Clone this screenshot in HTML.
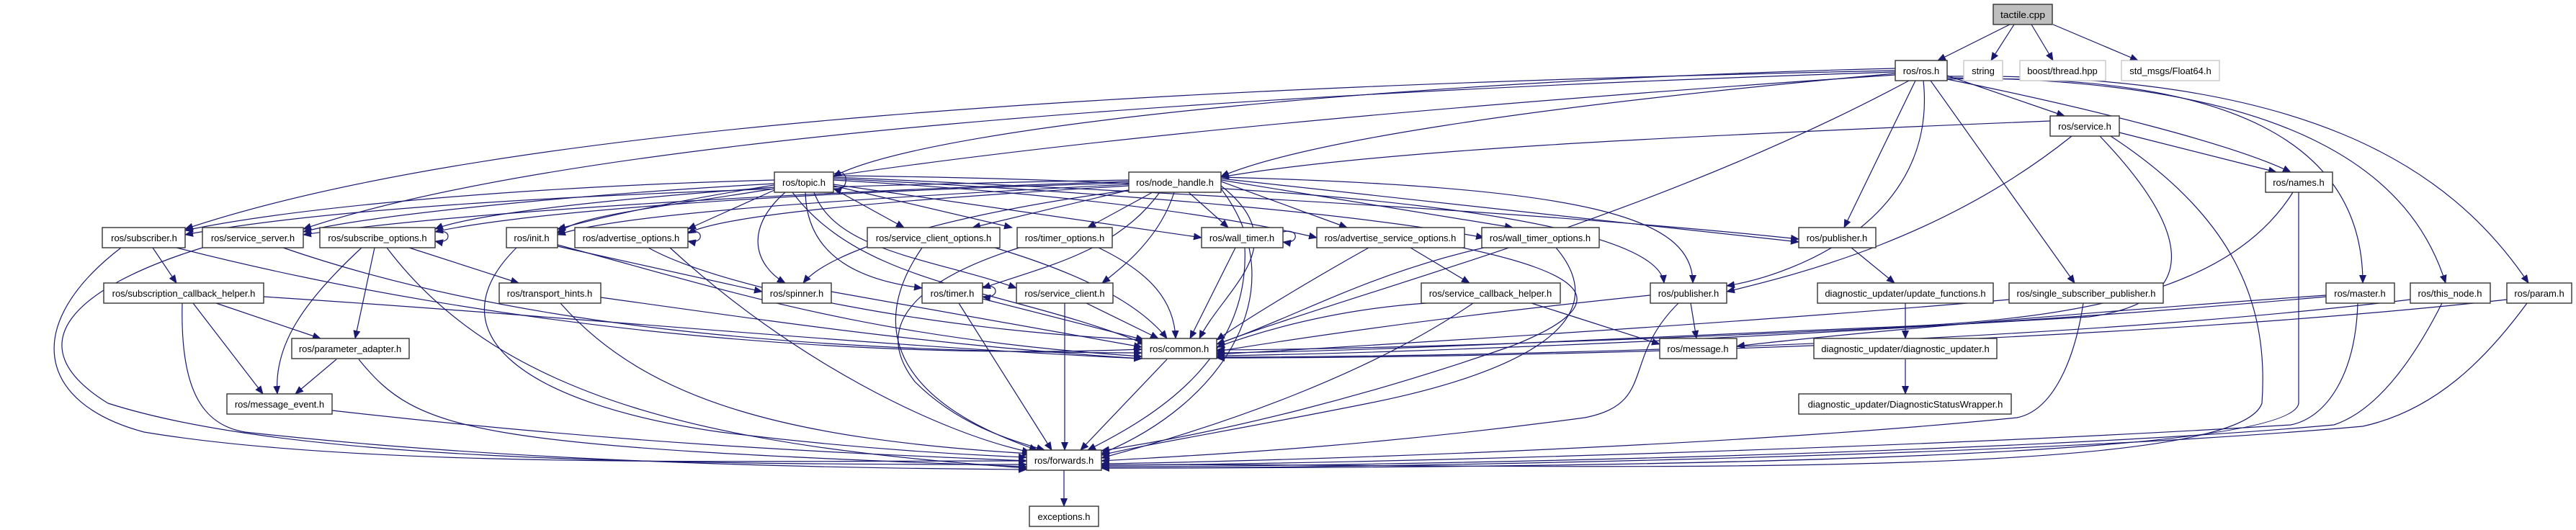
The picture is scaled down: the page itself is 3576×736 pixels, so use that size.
<!DOCTYPE html>
<html><head><meta charset="utf-8"><style>
html,body{margin:0;padding:0;background:#fff;}
svg{display:block;}
.e{fill:none;stroke:#191970;stroke-width:1.2;marker-end:url(#a);}
.n{fill:#fff;stroke:#333;stroke-width:1.4;}
.g{fill:#fff;stroke:#c8c8c8;stroke-width:1.4;}
text{font-family:"Liberation Sans",sans-serif;font-size:13px;fill:#000;text-anchor:middle;}
</style></head><body>
<svg width="3576" height="736" viewBox="0 0 3576 736" xmlns="http://www.w3.org/2000/svg">
<defs><marker id="a" markerUnits="userSpaceOnUse" markerWidth="12" markerHeight="10" refX="11" refY="5" orient="auto"><path d="M0,0 L12,5 L0,10 Z" fill="#191970"/></marker></defs>
<g>
<path class="e" d="M2790,34 L2690,84"/>
<path class="e" d="M2796,34 L2764,84"/>
<path class="e" d="M2820,34 L2850,84"/>
<path class="e" d="M2850,34 L2968,84"/>
<path class="e" d="M2631,95 C2000,110 1300,170 1157,245"/>
<path class="e" d="M2631,102 C2100,150 1800,200 1695,245"/>
<path class="e" d="M2703,105 L2866,161"/>
<path class="e" d="M2703,110 C2900,150 3100,200 3180,239"/>
<path class="e" d="M2631,98 C1600,120 700,170 257,318"/>
<path class="e" d="M2631,100 C1700,130 800,190 421,318"/>
<path class="e" d="M2631,104 C1800,160 1100,230 774,318"/>
<path class="e" d="M2659,112 L2560,316"/>
<path class="e" d="M2670,112 C2690,300 2500,380 2397,397"/>
<path class="e" d="M2650,112 C2300,300 1900,400 1689,478"/>
<path class="e" d="M2680,112 L2880,393"/>
<path class="e" d="M2703,110 C3100,100 3280,200 3280,393"/>
<path class="e" d="M2703,108 C3200,110 3350,250 3395,393"/>
<path class="e" d="M2703,106 C3200,100 3400,230 3510,393"/>
<path class="e" d="M1157,242 C1180,228 1180,270 1157,262"/>
<path class="e" d="M1075,250 C700,260 400,290 257,320"/>
<path class="e" d="M1075,255 C800,270 500,300 421,322"/>
<path class="e" d="M1075,260 C800,280 650,300 604,318"/>
<path class="e" d="M1075,262 C900,290 800,300 774,324"/>
<path class="e" d="M1075,264 L955,318"/>
<path class="e" d="M1157,262 L1255,316"/>
<path class="e" d="M1157,258 L1405,316"/>
<path class="e" d="M1157,256 L1668,330"/>
<path class="e" d="M1157,250 C1500,270 1700,300 1828,330"/>
<path class="e" d="M1157,248 C1600,270 1900,300 2060,330"/>
<path class="e" d="M1157,246 C1700,270 2200,300 2497,332"/>
<path class="e" d="M1090,267 C1030,320 1050,370 1090,393"/>
<path class="e" d="M1118,267 C1120,360 1200,390 1280,400"/>
<path class="e" d="M1130,267 C1160,350 1300,360 1411,400"/>
<path class="e" d="M1157,244 C1800,250 2300,300 2310,393"/>
<path class="e" d="M1100,267 C1200,400 1400,400 1590,478"/>
<path class="e" d="M1567,250 C1000,260 500,280 257,326"/>
<path class="e" d="M1567,252 C1000,270 600,300 421,326"/>
<path class="e" d="M1567,254 C1000,270 700,300 604,322"/>
<path class="e" d="M1567,256 C1100,280 850,300 774,326"/>
<path class="e" d="M1567,258 C1200,280 1000,300 955,324"/>
<path class="e" d="M1567,264 L1350,316"/>
<path class="e" d="M1600,267 L1510,316"/>
<path class="e" d="M1650,267 L1705,316"/>
<path class="e" d="M1695,252 L1870,316"/>
<path class="e" d="M1695,250 L2100,316"/>
<path class="e" d="M1695,248 L2497,336"/>
<path class="e" d="M1567,264 C1300,300 1150,350 1115,393"/>
<path class="e" d="M1610,267 C1550,350 1450,370 1364,400"/>
<path class="e" d="M1630,267 C1610,330 1560,370 1530,393"/>
<path class="e" d="M1695,246 C2200,260 2350,300 2350,393"/>
<path class="e" d="M1695,258 C1800,340 1700,400 1665,470"/>
<path class="e" d="M1695,262 C1800,400 1700,560 1529,630"/>
<path class="e" d="M2846,168 C2300,190 1900,210 1695,246"/>
<path class="e" d="M2942,184 L3160,239"/>
<path class="e" d="M2876,189 C2700,330 2500,380 2397,405"/>
<path class="e" d="M2915,189 C3050,330 3050,420 2900,440 C2400,470 1900,485 1689,486"/>
<path class="e" d="M2930,189 C3100,300 3150,420 3140,560 C3100,680 2000,640 1529,646"/>
<path class="e" d="M3183,267 C3100,400 2900,445 2600,455 C2200,472 1900,488 1689,490"/>
<path class="e" d="M3191,267 L3191,560 C3180,640 2200,650 1529,650"/>
<path class="e" d="M212,344 L245,393"/>
<path class="e" d="M245,344 C700,460 1200,500 1585,485"/>
<path class="e" d="M168,344 C30,450 50,560 200,600 C500,650 1000,640 1425,640"/>
<path class="e" d="M393,344 C700,450 1100,490 1585,490"/>
<path class="e" d="M281,344 C100,400 20,480 150,560 C400,640 900,645 1425,645"/>
<path class="e" d="M604,322 C628,316 628,340 604,335"/>
<path class="e" d="M568,344 L720,393"/>
<path class="e" d="M520,344 L493,470"/>
<path class="e" d="M502,344 C420,420 380,480 385,547"/>
<path class="e" d="M537,344 C700,560 1000,620 1425,650"/>
<path class="e" d="M774,340 C1000,400 1200,470 1585,495"/>
<path class="e" d="M774,342 L1058,405"/>
<path class="e" d="M717,344 C600,460 720,560 1000,600 C1200,625 1350,632 1425,635"/>
<path class="e" d="M955,322 C978,316 978,340 955,335"/>
<path class="e" d="M900,344 C1000,400 1300,460 1590,472"/>
<path class="e" d="M930,344 C1100,500 1300,600 1430,628"/>
<path class="e" d="M300,421 L445,470"/>
<path class="e" d="M268,421 L365,547"/>
<path class="e" d="M366,412 C800,440 1200,480 1585,498"/>
<path class="e" d="M253,421 C250,540 280,590 340,600 C700,640 1100,650 1425,652"/>
<path class="e" d="M834,413 C1100,450 1300,480 1585,498"/>
<path class="e" d="M778,421 C900,560 1100,610 1430,630"/>
<path class="e" d="M467,499 L410,547"/>
<path class="e" d="M498,499 C580,600 650,620 1425,648"/>
<path class="e" d="M461,570 C900,620 1200,630 1425,640"/>
<path class="e" d="M1381,344 C1500,380 1580,420 1620,470"/>
<path class="e" d="M1280,344 C1200,460 1250,560 1440,625"/>
<path class="e" d="M1525,344 C1600,380 1630,420 1632,470"/>
<path class="e" d="M1415,344 C1300,380 1200,440 1270,530 C1330,590 1400,610 1450,625"/>
<path class="e" d="M1781,322 C1804,316 1804,340 1781,336"/>
<path class="e" d="M1715,344 L1652,470"/>
<path class="e" d="M1728,344 C1735,500 1600,580 1510,625"/>
<path class="e" d="M1154,405 L1585,482"/>
<path class="e" d="M1364,398 C1388,392 1388,416 1364,412"/>
<path class="e" d="M1364,415 L1588,472"/>
<path class="e" d="M1331,421 L1460,625"/>
<path class="e" d="M1508,421 L1608,470"/>
<path class="e" d="M1478,421 L1478,625"/>
<path class="e" d="M1620,499 L1500,625"/>
<path class="e" d="M1477,653 L1477,703"/>
<path class="e" d="M1958,344 L2040,393"/>
<path class="e" d="M1900,344 C1800,400 1720,450 1689,472"/>
<path class="e" d="M2030,344 C2200,380 2250,420 2100,480 C1900,550 1700,600 1529,626"/>
<path class="e" d="M2060,344 C1900,380 1800,440 1689,478"/>
<path class="e" d="M2160,344 C2250,450 2100,520 1900,560 C1700,600 1600,615 1529,632"/>
<path class="e" d="M2126,421 L2304,478"/>
<path class="e" d="M1980,421 C1850,430 1750,460 1689,482"/>
<path class="e" d="M2045,421 C1900,520 1700,590 1529,636"/>
<path class="e" d="M2570,344 L2630,393"/>
<path class="e" d="M2347,421 L2355,470"/>
<path class="e" d="M2291,410 C2000,440 1800,470 1689,488"/>
<path class="e" d="M2330,421 C2250,500 2300,560 2200,580 C1900,620 1700,630 1529,640"/>
<path class="e" d="M2645,421 L2645,470"/>
<path class="e" d="M2645,499 L2645,547"/>
<path class="e" d="M2789,416 C2400,450 1900,480 1689,492"/>
<path class="e" d="M2892,421 C2880,500 2850,570 2800,580 C2400,620 1800,640 1529,644"/>
<path class="e" d="M3229,410 C2800,440 2450,475 2411,481"/>
<path class="e" d="M3229,412 C2700,460 2000,490 1689,494"/>
<path class="e" d="M3273,421 C3270,520 3230,580 3180,590 C2700,620 1900,645 1529,646"/>
<path class="e" d="M3346,416 C2900,470 2200,495 1689,496"/>
<path class="e" d="M3390,421 C3350,500 3300,570 3240,590 C2800,630 1900,648 1529,648"/>
<path class="e" d="M3480,416 C3000,470 2200,497 1689,497"/>
<path class="e" d="M3508,421 C3450,500 3380,570 3280,592 C2800,635 1900,650 1529,650"/>
</g>
<g>
<rect x="2767" y="6" width="82" height="28" style="fill:#bfbfbf;stroke:#333;stroke-width:1.4"/><text x="2808" y="25" textLength="62" lengthAdjust="spacingAndGlyphs">tactile.cpp</text>
<rect class="n" x="2631" y="84" width="72" height="28"/><text x="2667" y="103">ros/ros.h</text>
<rect class="g" x="2726" y="84" width="54" height="28"/><text x="2753" y="103">string</text>
<rect class="g" x="2804" y="84" width="119" height="28"/><text x="2863" y="103">boost/thread.hpp</text>
<rect class="g" x="2945" y="84" width="136" height="28"/><text x="3013" y="103">std_msgs/Float64.h</text>
<rect class="n" x="2846" y="161" width="96" height="28"/><text x="2894" y="180">ros/service.h</text>
<rect class="n" x="1075" y="239" width="82" height="28"/><text x="1116" y="258">ros/topic.h</text>
<rect class="n" x="1567" y="239" width="128" height="28"/><text x="1631" y="258">ros/node_handle.h</text>
<rect class="n" x="3145" y="239" width="93" height="28"/><text x="3191" y="258">ros/names.h</text>
<rect class="n" x="142" y="316" width="115" height="28"/><text x="200" y="335">ros/subscriber.h</text>
<rect class="n" x="281" y="316" width="140" height="28"/><text x="351" y="335">ros/service_server.h</text>
<rect class="n" x="444" y="316" width="160" height="28"/><text x="524" y="335">ros/subscribe_options.h</text>
<rect class="n" x="703" y="316" width="71" height="28"/><text x="738" y="335">ros/init.h</text>
<rect class="n" x="798" y="316" width="157" height="28"/><text x="876" y="335">ros/advertise_options.h</text>
<rect class="n" x="1204" y="316" width="184" height="28"/><text x="1296" y="335">ros/service_client_options.h</text>
<rect class="n" x="1412" y="316" width="132" height="28"/><text x="1478" y="335">ros/timer_options.h</text>
<rect class="n" x="1668" y="316" width="113" height="28"/><text x="1724" y="335">ros/wall_timer.h</text>
<rect class="n" x="1828" y="316" width="205" height="28"/><text x="1930" y="335">ros/advertise_service_options.h</text>
<rect class="n" x="2057" y="316" width="163" height="28"/><text x="2138" y="335">ros/wall_timer_options.h</text>
<rect class="n" x="2497" y="316" width="107" height="28"/><text x="2550" y="335">ros/publisher.h</text>
<rect class="n" x="144" y="393" width="222" height="28"/><text x="255" y="412">ros/subscription_callback_helper.h</text>
<rect class="n" x="693" y="393" width="141" height="28"/><text x="763" y="412">ros/transport_hints.h</text>
<rect class="n" x="1058" y="393" width="96" height="28"/><text x="1106" y="412">ros/spinner.h</text>
<rect class="n" x="1280" y="393" width="84" height="28"/><text x="1322" y="412">ros/timer.h</text>
<rect class="n" x="1411" y="393" width="134" height="28"/><text x="1478" y="412">ros/service_client.h</text>
<rect class="n" x="1973" y="393" width="193" height="28"/><text x="2069" y="412">ros/service_callback_helper.h</text>
<rect class="n" x="2291" y="393" width="106" height="28"/><text x="2344" y="412">ros/publisher.h</text>
<rect class="n" x="2523" y="393" width="244" height="28"/><text x="2645" y="412">diagnostic_updater/update_functions.h</text>
<rect class="n" x="2789" y="393" width="214" height="28"/><text x="2896" y="412">ros/single_subscriber_publisher.h</text>
<rect class="n" x="3229" y="393" width="95" height="28"/><text x="3276" y="412">ros/master.h</text>
<rect class="n" x="3346" y="393" width="111" height="28"/><text x="3401" y="412">ros/this_node.h</text>
<rect class="n" x="3480" y="393" width="90" height="28"/><text x="3525" y="412">ros/param.h</text>
<rect class="n" x="405" y="470" width="163" height="28"/><text x="486" y="489">ros/parameter_adapter.h</text>
<rect class="n" x="1585" y="470" width="104" height="28"/><text x="1637" y="489">ros/common.h</text>
<rect class="n" x="2304" y="470" width="107" height="28"/><text x="2357" y="489">ros/message.h</text>
<rect class="n" x="2518" y="470" width="254" height="28"/><text x="2645" y="489">diagnostic_updater/diagnostic_updater.h</text>
<rect class="n" x="315" y="547" width="146" height="28"/><text x="388" y="566">ros/message_event.h</text>
<rect class="n" x="2497" y="547" width="295" height="28"/><text x="2645" y="566">diagnostic_updater/DiagnosticStatusWrapper.h</text>
<rect class="n" x="1425" y="625" width="104" height="28"/><text x="1477" y="644">ros/forwards.h</text>
<rect class="n" x="1429" y="703" width="96" height="28"/><text x="1477" y="722">exceptions.h</text>
</g>
</svg>
</body></html>
